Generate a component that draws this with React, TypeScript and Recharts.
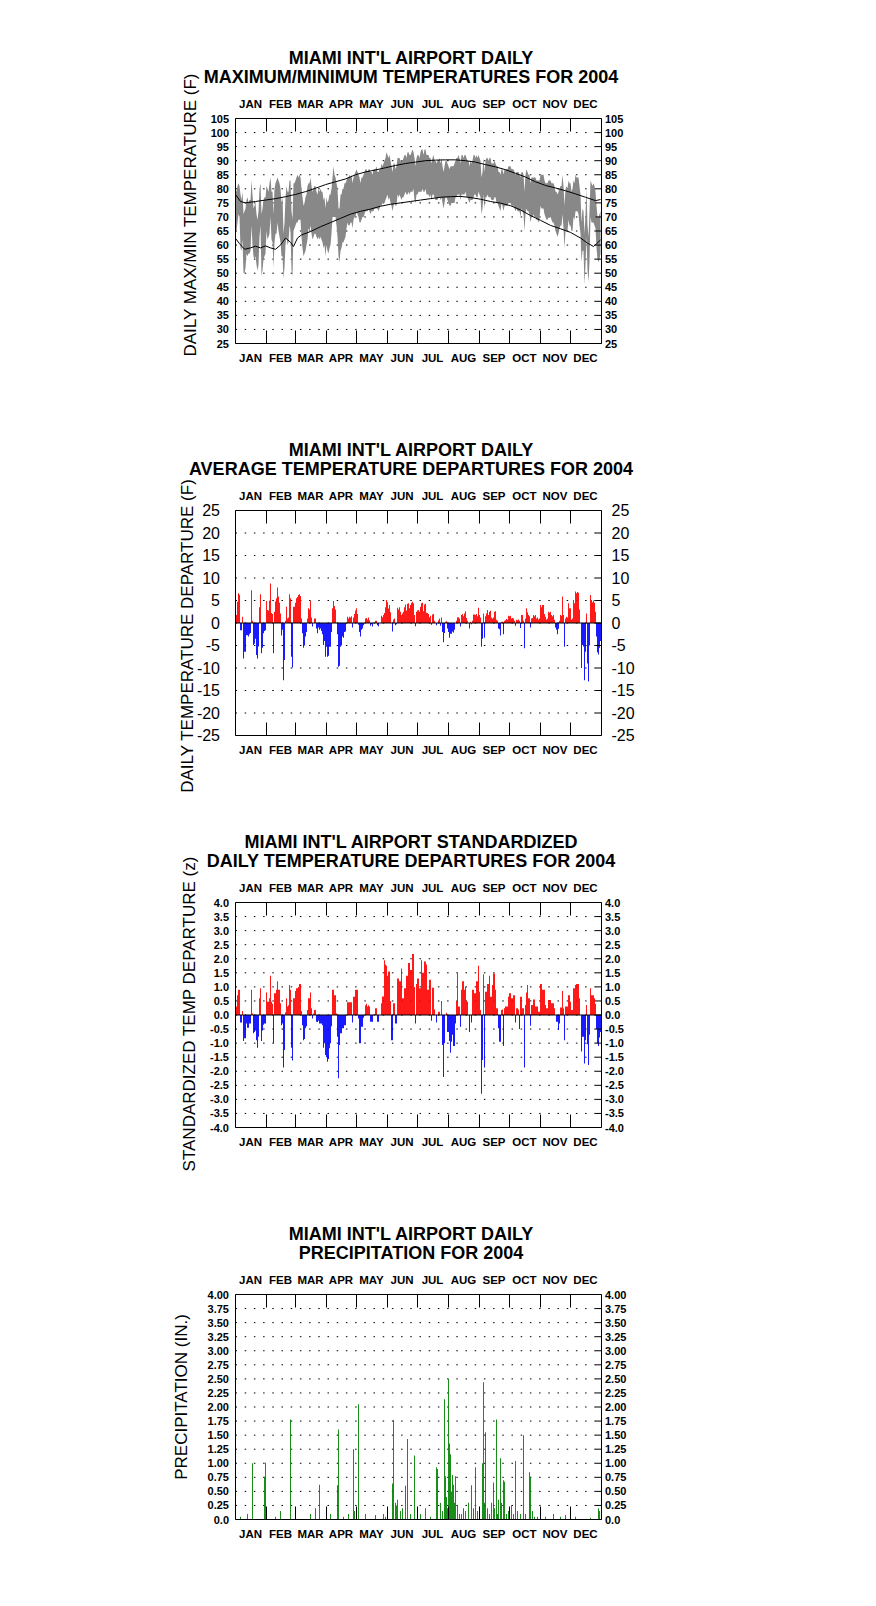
import React from 'react'
import { ComposedChart, Area, Line, Bar, Cell, XAxis, YAxis, CartesianGrid, ReferenceLine } from 'recharts'

const FONT = '"Liberation Sans", Arial, Helvetica, sans-serif'

// month labels and first day (0-based day of 2004) of every month
const MONTHS = ['JAN', 'FEB', 'MAR', 'APR', 'MAY', 'JUN', 'JUL', 'AUG', 'SEP', 'OCT', 'NOV', 'DEC']
const MONTH_START = [0, 31, 60, 91, 121, 152, 182, 213, 244, 274, 305, 335, 366]

// daily max / min temperatures (F)
const TMAX = [
  80, 79, 81, 82, 81, 78, 76, 79, 71, 72, 73, 76, 77, 75, 76, 76, 83, 78, 73, 74, 75, 71, 69, 72, 80, 82, 71, 73, 76, 77, 77,
  81, 80, 79, 82, 84, 79, 79, 71, 80, 82, 83, 84, 83, 82, 80, 75, 77, 64, 68, 77, 81, 79, 79, 83, 83, 72, 69, 82, 82,
  83, 84, 85, 84, 85, 84, 80, 77, 74, 75, 77, 78, 81, 82, 82, 84, 81, 79, 80, 81, 81, 79, 78, 80, 79, 80, 79, 79, 76, 77, 73,
  77, 75, 76, 78, 78, 80, 84, 88, 85, 84, 82, 80, 73, 73, 78, 78, 80, 80, 82, 82, 83, 84, 84, 85, 84, 85, 82, 84, 85, 86,
  87, 86, 85, 84, 82, 84, 84, 85, 86, 87, 87, 86, 87, 87, 86, 86, 85, 87, 87, 87, 88, 86, 86, 87, 87, 89, 88, 89, 90, 91, 93,
  92, 91, 92, 90, 88, 86, 89, 89, 87, 88, 91, 91, 91, 90, 90, 90, 91, 92, 92, 91, 93, 93, 92, 92, 93, 94, 93, 91, 88, 91,
  92, 92, 91, 93, 94, 94, 92, 94, 94, 92, 92, 92, 91, 91, 89, 91, 92, 90, 90, 89, 90, 90, 91, 89, 91, 88, 86, 88, 90, 90, 89,
  88, 87, 88, 88, 88, 88, 89, 90, 91, 91, 92, 91, 89, 92, 92, 91, 92, 92, 91, 90, 90, 88, 90, 89, 90, 92, 92, 91, 92, 91, 92,
  91, 90, 84, 86, 91, 86, 90, 91, 91, 90, 91, 91, 89, 89, 89, 90, 89, 88, 88, 86, 86, 85, 87, 87, 85, 87, 87, 87, 87, 88,
  88, 88, 87, 87, 87, 86, 85, 86, 86, 86, 85, 84, 86, 86, 85, 79, 85, 87, 86, 85, 85, 82, 84, 84, 84, 84, 84, 83, 83, 83, 83,
  85, 85, 85, 85, 83, 82, 82, 82, 83, 83, 83, 82, 82, 82, 81, 79, 79, 78, 79, 80, 81, 81, 85, 81, 74, 80, 81, 80, 83, 82,
  82, 79, 80, 83, 82, 85, 84, 84, 84, 81, 78, 68, 73, 72, 64, 71, 80, 67, 63, 72, 83, 82, 81, 82, 81, 79, 74, 70, 70, 71, 72,
]
const TMIN = [
  64, 65, 68, 71, 70, 59, 58, 62, 50, 50, 52, 57, 56, 57, 57, 58, 67, 60, 56, 55, 56, 53, 51, 53, 63, 67, 49, 51, 55, 56, 57,
  65, 62, 63, 64, 70, 62, 61, 52, 61, 64, 64, 68, 65, 63, 61, 56, 56, 48, 52, 60, 63, 60, 61, 67, 65, 51, 49, 65, 66,
  67, 68, 68, 69, 69, 69, 63, 59, 56, 57, 58, 60, 62, 66, 65, 67, 64, 62, 63, 64, 64, 63, 62, 63, 62, 63, 62, 61, 59, 60, 56,
  60, 58, 57, 59, 60, 64, 70, 70, 70, 70, 67, 63, 56, 54, 58, 59, 61, 61, 62, 63, 66, 68, 67, 67, 68, 68, 66, 69, 70, 70,
  72, 71, 70, 68, 68, 69, 70, 70, 71, 72, 72, 72, 73, 72, 71, 72, 72, 72, 73, 73, 73, 73, 72, 73, 74, 74, 75, 75, 75, 76, 77,
  78, 76, 77, 75, 74, 72, 74, 75, 74, 74, 78, 77, 78, 77, 76, 77, 77, 78, 79, 78, 78, 79, 78, 79, 79, 79, 80, 76, 75, 78,
  78, 79, 79, 79, 79, 80, 79, 79, 80, 78, 78, 78, 77, 78, 76, 78, 78, 77, 76, 76, 76, 77, 77, 76, 77, 75, 73, 75, 77, 77, 76,
  75, 74, 74, 75, 75, 75, 75, 77, 77, 78, 78, 78, 76, 78, 78, 78, 78, 79, 77, 77, 76, 75, 76, 76, 76, 77, 78, 78, 77, 77, 79,
  78, 77, 71, 73, 78, 73, 77, 77, 78, 77, 77, 77, 76, 76, 76, 77, 77, 75, 75, 74, 73, 72, 75, 74, 72, 74, 74, 74, 74, 75,
  75, 75, 74, 74, 74, 73, 72, 73, 72, 72, 72, 70, 73, 72, 71, 65, 71, 73, 72, 72, 71, 68, 70, 70, 71, 70, 70, 69, 69, 68, 69,
  74, 73, 73, 73, 71, 70, 69, 69, 70, 70, 70, 69, 68, 68, 67, 65, 64, 63, 64, 66, 67, 67, 71, 66, 59, 65, 65, 65, 69, 67,
  67, 65, 65, 70, 69, 72, 72, 72, 71, 67, 64, 54, 58, 58, 46, 53, 63, 51, 47, 54, 70, 68, 68, 68, 67, 66, 59, 55, 54, 55, 57,
]

// normal max / min curves, read at these days
const NMAX_DAY = [0, 5, 10, 20, 30, 40, 50, 60, 70, 80, 90, 100, 110, 120, 130, 140, 150, 160, 170, 180, 190, 200, 210, 220, 230, 240, 250, 260, 270, 280, 290, 300, 310, 320, 330, 340, 350, 360, 365]
const NMAX = [78, 75.5, 75, 75.5, 76, 76.5, 77.2, 78, 79, 80.2, 81.5, 82.5, 83.5, 85, 86, 86.7, 87.5, 88.3, 89, 89.5, 90, 90.2, 90.3, 90.3, 90, 89.5, 88.6, 87.8, 86.8, 85.5, 84.2, 82.5, 81.2, 80.3, 79.3, 78.2, 77, 75.8, 76.2]
const NMIN_DAY = [0, 4, 9, 15, 20, 25, 30, 35, 40, 45, 50, 55, 58, 62, 66, 75, 85, 95, 105, 115, 125, 135, 145, 155, 165, 175, 185, 195, 205, 215, 225, 235, 245, 255, 265, 275, 285, 295, 305, 315, 325, 335, 345, 352, 358, 361, 365]
const NMIN = [62.4, 60.5, 58.5, 59, 59.6, 59, 59.7, 59, 58.5, 60, 62.5, 61, 59.5, 62.5, 63.6, 64.8, 66.5, 68, 69.5, 71, 72, 72.8, 73.8, 74.5, 75, 75.5, 76, 76.5, 77, 77.2, 77.3, 76.9, 76.3, 75.5, 74.9, 74, 72.5, 70.5, 68.8, 67, 65.8, 64.5, 62.5, 60.7, 59.5, 60.5, 61.8]

// daily average temperature departure (F)
const DEP = [
  1.8, 1.8, 4.7, 6.6, 6.3, -1.6, -1.6, 1.4, -7.9, -6.4, -6.4, -2.7, -2.7, -3, -2.5, -2.2, 7.3, 0.5, -4.9, -4.6, -3.5, -7.1, -7.9, -5.2, 3.5, 6.4, -6.7, -5.5, -2.3, -1.8, -1.6,
  4.9, 2.9, 2.8, 5.0, 8.8, 2.2, 2.0, -6.7, 2.5, 4.8, 5.5, 7.9, 5.9, 4.5, 2.1, -2.8, -1.5, -12.7, -8.2, 0.5, 3.6, 1.0, 1.2, 6.4, 5.5, -7.5, -9.9, 3.6, 3.6,
  4.5, 5.5, 5.8, 6.2, 6.4, 6.0, 1.0, -2.3, -5.5, -5.0, -3.0, -2.0, 1.0, 3.3, 3.0, 4.9, 1.2, -0.8, 0, 1.0, 1.0, -1.2, -2.3, -1.0, -1.5, -1.2, -1.8, -2.5, -4.9, -4.0, -7.5,
  -5.3, -7.5, -7.3, -5.3, -5.3, -2.0, 3.3, 4.9, 3.8, 3.0, 0, -2.5, -9.7, -9.5, -5.3, -5.0, -3.0, -3.3, -2.0, -1.9, 0, 1.4, 1.0, 1.4, 1.2, 1.5, -1.0, 1.2, 2.0, 2.8,
  3.3, 2.0, -0.4, -2.0, -3.0, -1.5, -1.2, -0.5, 0, 1.0, 1.1, 0.8, 1.2, 0.6, -0.6, -0.3, -0.8, 0, 0, 0.5, 0.5, -0.5, -0.7, 0, 0, 1.6, 1.3, 1.8, 2.2, 3.5, 5.1,
  4.6, 3.2, 4.0, 2.4, 0, -1.9, 0.8, 1.0, -0.5, -0.3, 3.4, 3.0, 3.5, 2.5, 1.8, 2.1, 2.5, 3.5, 4.1, 2.8, 4.3, 4.4, 3.3, 4.0, 4.5, 4.7, 4.4, 1.8, -0.7, 2.5,
  2.8, 2.9, 2.5, 3.6, 4.4, 4.5, 2.6, 4.1, 4.3, 2.3, 2.2, 2.0, 1.3, 1.6, -0.4, 1.9, 2.0, 0.5, 0, -0.5, 0, 0.6, 1.0, -0.6, 1.2, -2.0, -4.3, -2.2, 0.3, 0.4, -1.2,
  -2.0, -3.3, -2.4, -2.4, -1.9, -2.1, -1.5, 0, 0.5, 1.3, 1.3, 1.0, -0.8, 1.8, 2.0, 1.5, 2.1, 2.6, 1.1, 0.5, 0, -1.2, 0.3, -0.3, 0.5, 1.9, 1.9, 1.8, 2.0, 1.5, 3.4,
  1.8, 1.2, -5.3, -3.5, 2.1, -3.3, 1.5, 2.1, 2.9, 1.8, 2.5, 2.7, 1.2, 1.0, 1.2, 2.5, 2.6, 0.7, 0.5, -1.2, -1.4, -2.8, 0.3, 0.3, -2.5, 0.5, 0.6, 0.9, 0.7, 1.6,
  1.5, 1.6, 1.0, 1.1, 1.0, 0.5, -0.6, 0.7, 0.6, 0.8, 0.5, -1.1, 1.8, 1.8, 0.5, -5.6, 1.0, 3.3, 2.4, 1.8, 1.5, -1.0, 1.0, 1.1, 1.8, 1.5, 1.8, 1.0, 1.2, 0.8, 1.0,
  4.0, 3.5, 4.0, 4.0, 2.0, 1.4, 0.8, 1.0, 2.5, 2.3, 2.5, 1.8, 1.5, 1.8, 0.7, -1.0, -1.5, -2.5, -1.3, 0.5, 1.8, 1.6, 5.9, 1.8, -5.3, 1.0, 1.4, 1.2, 4.4, 3.3,
  3.3, 0.7, 1.0, 5.1, 4.4, 7.0, 6.6, 6.9, 6.7, 3.0, 0, -10.0, -4.9, -5.2, -12.7, -6.4, 2.1, -9.0, -13.0, -5.0, 6.2, 5.1, 4.6, 5.0, 4.5, 2.5, -3, -6.5, -7, -5.5, -4,
]

// standardized daily departure (z)
const ZDEP = [
  0.3, 0.3, 0.7, 0.9, 0.9, -0.27, -0.27, 0.14, -0.92, -0.83, -0.83, -0.3, -0.45, -0.45, -0.3, -0.3, 0.9, 0.05, -0.65, -0.6, -0.55, -0.9, -1.16, -0.77, 0.6, 0.95, -0.92, -0.55, -0.35, -0.3, -0.3,
  0.8, 0.47, 0.47, 0.6, 1.4, 0.47, 0.4, -1.0, 0.77, 0.77, 0.9, 1.2, 0.9, 0.9, 0.42, -0.36, -0.3, -1.87, -1.24, 0.1, 0.6, 0.3, 0.35, 1.07, 0.9, -1.16, -1.62, 0.6, 0.6,
  0.85, 0.95, 0.95, 1.0, 1.1, 1.1, 0.14, -0.36, -0.9, -0.85, -0.47, -0.4, 0.18, 0.6, 0.6, 0.8, 0.24, -0.12, 0.05, 0.18, 0.18, -0.24, -0.25, -0.2, -0.3, -0.3, -0.3, -0.36, -1.16, -1.0, -1.42,
  -1.5, -1.66, -1.56, -1.18, -1.0, -0.4, 0.9, 0.9, 0.7, 0.7, 0.05, -0.77, -2.25, -1.07, -0.65, -0.65, -0.47, -0.47, -0.36, -0.36, 0, 0.45, 0.45, 0.45, 0.45, 0.45, -0.27, 0.65, 0.65, 0.9,
  0.9, 0.9, -0.12, -1.0, -1.0, -0.42, -0.42, -0.1, 0, 0.35, 0.4, 0.3, 0.35, 0.3, -0.24, -0.24, -0.24, 0, 0, 0.24, 0.24, -0.24, -0.24, 0, 0, 0.42, 0.66, 0.66, 1.95, 1.8, 1.75,
  1.4, 1.55, 1.55, 0.5, -0.9, -0.9, 0.42, 0.42, -0.3, -0.3, 1.3, 1.3, 1.2, 1.2, 1.65, 0.6, 0.6, 0.95, 0.95, 1.4, 1.4, 1.85, 1.85, 1.6, 1.6, 2.17, 2.17, 1.0, -0.3, 1.1,
  1.3, 1.3, 0.95, 0.95, 1.95, 1.5, 1.5, 1.9, 1.9, 1.8, 0.9, 0.9, 1.25, 1.25, -0.2, 0.97, 0.97, 0.2, 0, -0.27, 0, 0.12, 0.12, 0, 0.5, -1.07, -2.2, -1.0, 0, 0.08, -0.6,
  -0.6, -0.92, -1.34, -0.95, -0.7, -1.1, -1.1, -0.3, 0.5, 1.5, 0.3, 0.3, -0.42, 0.9, 1.2, 1.2, 0.9, 1.0, 0.5, 0.47, 0, -0.6, 0, -0.27, 0.9, 0.9, 0.77, 0.77, 1.2, 1.2, 1.75,
  0.83, 0.18, -2.8, -1.6, 1.45, -1.87, 0.83, 0.83, 1.1, 1.1, 1.4, 0.65, 0.65, 1.07, 1.48, 1.48, 0.9, 0.24, 0.24, -0.47, -0.95, -0.95, 0.18, 0.2, -1.1, 0.24, 0.3, 0.3, 0.3, 0.65,
  0.77, 0.77, 0.6, 0.6, 0.7, 0.7, -0.27, 0.24, 0.24, 0.2, -0.5, 0.65, 0.65, 0.24, 0.24, -1.87, 0.36, 0.8, 1.07, 0.6, 0.6, -0.38, 0.36, 0.36, 0.55, 0.55, 0.3, 0.3, 0.3, 0.12, 0.12,
  1.1, 1.1, 0.9, 0.9, 0.9, 0.36, 0.24, 0.24, 0.53, 0.53, 0.53, 0.42, 0.42, 0.42, 0.24, 0, -0.24, -0.24, -0.53, -0.3, 0.27, 0.27, 0.85, 0.24, -0.9, 0.3, 0.3, 0.3, 0.7, 0.7,
  0.47, 0.18, 0.18, 0.95, 0.95, 1.07, 1.1, 1.1, 1.1, 0.6, 0, -1.3, -0.77, -0.77, -1.72, -0.9, 0.36, -1.04, -1.78, -0.7, 0.95, 0.7, 0.7, 0.7, 0.6, 0.4, -0.5, -1.0, -1.1, -0.8, -0.6,
]

// days with measurable precipitation and the amount (inches)
const RAIN_DAY = [5, 12, 17, 29, 30, 40, 45, 55, 75, 80, 84, 95, 102, 103, 108, 113, 118, 119, 123, 130, 140, 148, 150, 157, 158, 160, 161, 162, 165, 167, 170, 172, 175, 179, 185, 190, 195, 201, 202, 205, 207, 209, 210, 211, 212, 213, 214, 215, 216, 217, 218, 219, 220, 222, 224, 226, 228, 230, 233, 236, 238, 240, 242, 244, 247, 248, 249, 250, 252, 254, 256, 258, 259, 261, 262, 263, 265, 266, 268, 269, 271, 273, 276, 278, 280, 282, 285, 288, 290, 294, 295, 297, 299, 302, 310, 318, 325, 330, 340, 355, 363, 364]
const RAIN_IN = [0.05, 0.1, 1.0, 0.76, 1.01, 0.05, 0.15, 1.78, 0.1, 0.2, 0.62, 0.1, 0.61, 1.6, 0.05, 0.1, 1.25, 0.15, 2.05, 0.1, 0.08, 0.1, 0.05, 0.64, 1.77, 0.3, 0.25, 0.35, 0.15, 0.2, 0.6, 1.43, 0.1, 1.14, 0.1, 0.2, 0.05, 0.93, 0.9, 0.3, 0.15, 2.14, 0.77, 0.4, 0.2, 2.5, 1.35, 1.16, 0.5, 0.79, 0.62, 0.3, 0.77, 0.25, 0.1, 0.1, 0.2, 0.15, 0.3, 0.61, 0.2, 0.93, 0.15, 0.1, 1.0, 2.44, 0.3, 1.55, 0.2, 0.1, 0.3, 0.66, 0.2, 1.78, 0.1, 0.35, 1.09, 0.3, 0.7, 0.67, 0.1, 0.15, 0.25, 0.1, 1.04, 0.15, 0.1, 1.5, 0.1, 0.84, 0.76, 0.15, 0.05, 0.05, 0.05, 0.1, 0.05, 0.08, 0.05, 0.03, 0.2, 0.15]

const T_TICKS = [25, 30, 35, 40, 45, 50, 55, 60, 65, 70, 75, 80, 85, 90, 95, 100, 105]
const DEP_TICKS = [-25, -20, -15, -10, -5, 0, 5, 10, 15, 20, 25]
const Z_TICKS = [-4, -3.5, -3, -2.5, -2, -1.5, -1, -0.5, 0, 0.5, 1, 1.5, 2, 2.5, 3, 3.5, 4]
const P_TICKS = [0, 0.25, 0.5, 0.75, 1, 1.25, 1.5, 1.75, 2, 2.25, 2.5, 2.75, 3, 3.25, 3.5, 3.75, 4]

const rows = TMAX.map((hi, d) => {
  const a = NMAX_DAY.indexOf(d)
  const b = NMIN_DAY.indexOf(d)
  const r = RAIN_DAY.indexOf(d)
  return {
    x: d,
    hi,
    lo: TMIN[d],
    nmax: a >= 0 ? NMAX[a] : null,
    nmin: b >= 0 ? NMIN[b] : null,
    dep: DEP[d],
    z: ZDEP[d],
    p: r >= 0 ? RAIN_IN[r] : 0,
  }
})

// layout of one panel (chart box is 876 x 392, plot box 366 x 225)
const W = 876
const H = 392
const PL = 235.5
const PR = 601.5
const PT = 118.5
const PH = 225
const AXW = 60
const AXH = 20

const monthMid = MONTHS.map((_, i) => (MONTH_START[i] + MONTH_START[i + 1]) / 2 - 0.5)
const innerStarts = MONTH_START.slice(1, 12)

type Cfg = {
  title: [string, string]
  yLabel: string
  yLabelX: number
  yLabelY: number
  domain: [number, number]
  ticks: number[]
  fmt: (v: number) => string
  leftSize: number
  leftWeight: number
  leftGap: number
  rightSize: number
  rightWeight: number
  rightGap: number
}

function Panel({ cfg, top, children }: { cfg: Cfg; top: number; children: React.ReactNode[] }) {
  const [lo, hi] = cfg.domain
  const tickLen = (13 / PH) * (hi - lo)

  const leftTick = (p: any) => (
    <text x={p.x - cfg.leftGap} y={p.y} textAnchor="end" dominantBaseline="central"
      fontSize={cfg.leftSize} fontWeight={cfg.leftWeight} fill="#000">
      {cfg.fmt(p.payload.value)}
    </text>
  )
  const rightTick = (p: any) => (
    <g>
      <line x1={p.x - 6} x2={p.x} y1={p.y} y2={p.y} stroke="#000" />
      <text x={p.x + cfg.rightGap} y={p.y} textAnchor="start" dominantBaseline="central"
        fontSize={cfg.rightSize} fontWeight={cfg.rightWeight} fill="#000">
        {cfg.fmt(p.payload.value)}
      </text>
    </g>
  )
  const monthTick = (dy: number) => (p: any) => (
    <text x={p.x} y={p.y + dy} textAnchor="middle" dominantBaseline="central" fontSize={11.5} fontWeight={700} fill="#000">
      {MONTHS[p.index]}
    </text>
  )

  return (
    <div style={{ position: 'absolute', left: 0, top, width: W, height: H }}>
      <div style={{ position: 'absolute', left: 111, width: 600, top: PT - 71, height: 20, lineHeight: '20px', textAlign: 'center', fontSize: 18, fontWeight: 700 }}>
        {cfg.title[0]}
      </div>
      <div style={{ position: 'absolute', left: 111, width: 600, top: PT - 52, height: 20, lineHeight: '20px', textAlign: 'center', fontSize: 18, fontWeight: 700 }}>
        {cfg.title[1]}
      </div>
      <div style={{ position: 'absolute', left: cfg.yLabelX - 200, width: 400, top: cfg.yLabelY - 10, height: 20, lineHeight: '20px', textAlign: 'center', fontSize: 17, transform: 'rotate(-90deg)' }}>
        {cfg.yLabel}
      </div>
      <ComposedChart width={W} height={H} data={rows}
        margin={{ top: PT - AXH, left: PL - AXW, right: W - PR - AXW, bottom: H - PT - PH - AXH }}
        style={{ position: 'absolute', left: 0, top: 0 }}>
        <CartesianGrid xAxisId="b" yAxisId="l" vertical={false} stroke="#000" strokeDasharray="1.5 7.7" />
        <XAxis xAxisId="t" orientation="top" type="number" dataKey="x" domain={[0, 366]} allowDataOverflow
          ticks={monthMid} interval={0} height={AXH} tickSize={0} tickMargin={0} tickLine={false}
          axisLine={{ stroke: '#000' }} tick={monthTick(-14.5)} />
        <XAxis xAxisId="b" orientation="bottom" type="number" dataKey="x" domain={[0, 366]} allowDataOverflow
          ticks={monthMid} interval={0} height={AXH} tickSize={0} tickMargin={0} tickLine={false}
          axisLine={{ stroke: '#000' }} tick={monthTick(14.5)} />
        <YAxis yAxisId="l" orientation="left" type="number" domain={cfg.domain} allowDataOverflow ticks={cfg.ticks}
          interval={0} width={AXW} tickSize={0} tickMargin={0} tickLine={false} axisLine={{ stroke: '#000' }} tick={leftTick} />
        <YAxis yAxisId="r" orientation="right" type="number" domain={cfg.domain} allowDataOverflow ticks={cfg.ticks}
          interval={0} width={AXW} tickSize={0} tickMargin={0} tickLine={false} axisLine={{ stroke: '#000' }} tick={rightTick} />
        {children}
        {innerStarts.map((s) => (
          <ReferenceLine key={'t' + s} xAxisId="b" yAxisId="l" stroke="#000"
            segment={[{ x: s, y: hi }, { x: s, y: hi - tickLen }]} />
        ))}
        {innerStarts.map((s) => (
          <ReferenceLine key={'b' + s} xAxisId="b" yAxisId="l" stroke="#000"
            segment={[{ x: s, y: lo }, { x: s, y: lo + tickLen }]} />
        ))}
      </ComposedChart>
    </div>
  )
}

const intFmt = (v: number) => String(v)
const oneFmt = (v: number) => v.toFixed(1)
const precFmt = (v: number) => (v === 0 ? '0.0' : v.toFixed(2))

const small = { leftSize: 11, leftWeight: 700, leftGap: 6.5, rightSize: 11, rightWeight: 700, rightGap: 3.5 }

const CFG1: Cfg = {
  title: ["MIAMI INT'L AIRPORT DAILY", 'MAXIMUM/MINIMUM TEMPERATURES FOR 2004'],
  yLabel: 'DAILY MAX/MIN TEMPERATURE (F)', yLabelX: 191, yLabelY: 215,
  domain: [25, 105], ticks: T_TICKS, fmt: intFmt, ...small,
}
const CFG2: Cfg = {
  title: ["MIAMI INT'L AIRPORT DAILY", 'AVERAGE TEMPERATURE DEPARTURES FOR 2004'],
  yLabel: 'DAILY TEMPERATURE DEPARTURE (F)', yLabelX: 188, yLabelY: 244,
  domain: [-25, 25], ticks: DEP_TICKS, fmt: intFmt,
  leftSize: 16, leftWeight: 400, leftGap: 15.5, rightSize: 16, rightWeight: 400, rightGap: 10,
}
const CFG3: Cfg = {
  title: ["MIAMI INT'L AIRPORT STANDARDIZED", 'DAILY TEMPERATURE DEPARTURES FOR 2004'],
  yLabel: 'STANDARDIZED TEMP DEPARTURE (z)', yLabelX: 190, yLabelY: 230,
  domain: [-4, 4], ticks: Z_TICKS, fmt: oneFmt, ...small,
}
const CFG4: Cfg = {
  title: ["MIAMI INT'L AIRPORT DAILY", 'PRECIPITATION FOR 2004'],
  yLabel: 'PRECIPITATION (IN.)', yLabelX: 182, yLabelY: 221,
  domain: [0, 4], ticks: P_TICKS, fmt: precFmt, ...small,
}

export default function App() {
  return (
    <div style={{ position: 'absolute', left: 0, top: 0, width: W, height: 1606, background: '#fff', fontFamily: FONT, color: '#000' }}>
      <Panel cfg={CFG1} top={0}>
        {[
          <Area key="band" xAxisId="b" yAxisId="l" type="linear" dataKey={(r: any) => [r.lo, r.hi]}
            stroke="none" fill="#888888" fillOpacity={1} dot={false} activeDot={false} isAnimationActive={false} />,
          <Line key="nmax" xAxisId="b" yAxisId="l" type="linear" dataKey="nmax" connectNulls stroke="#000"
            strokeWidth={1} dot={false} activeDot={false} isAnimationActive={false} />,
          <Line key="nmin" xAxisId="b" yAxisId="l" type="linear" dataKey="nmin" connectNulls stroke="#000"
            strokeWidth={1} dot={false} activeDot={false} isAnimationActive={false} />,
        ]}
      </Panel>
      <Panel cfg={CFG2} top={H}>
        {[
          <Bar key="dep" xAxisId="b" yAxisId="l" dataKey="dep" barSize={1} isAnimationActive={false}>
            {rows.map((r, i) => <Cell key={i} fill={r.dep >= 0 ? '#ff0000' : '#0000ff'} />)}
          </Bar>,
          <ReferenceLine key="zero" xAxisId="b" yAxisId="l" y={0} stroke="#000" />,
        ]}
      </Panel>
      <Panel cfg={CFG3} top={H * 2}>
        {[
          <Bar key="z" xAxisId="b" yAxisId="l" dataKey="z" barSize={1} isAnimationActive={false}>
            {rows.map((r, i) => <Cell key={i} fill={r.z >= 0 ? '#ff0000' : '#0000ff'} />)}
          </Bar>,
          <ReferenceLine key="zero" xAxisId="b" yAxisId="l" y={0} stroke="#000" />,
        ]}
      </Panel>
      <Panel cfg={CFG4} top={H * 3}>
        {[
          <Bar key="p" xAxisId="b" yAxisId="l" dataKey="p" barSize={1} fill="#008000" isAnimationActive={false} />,
        ]}
      </Panel>
    </div>
  )
}
